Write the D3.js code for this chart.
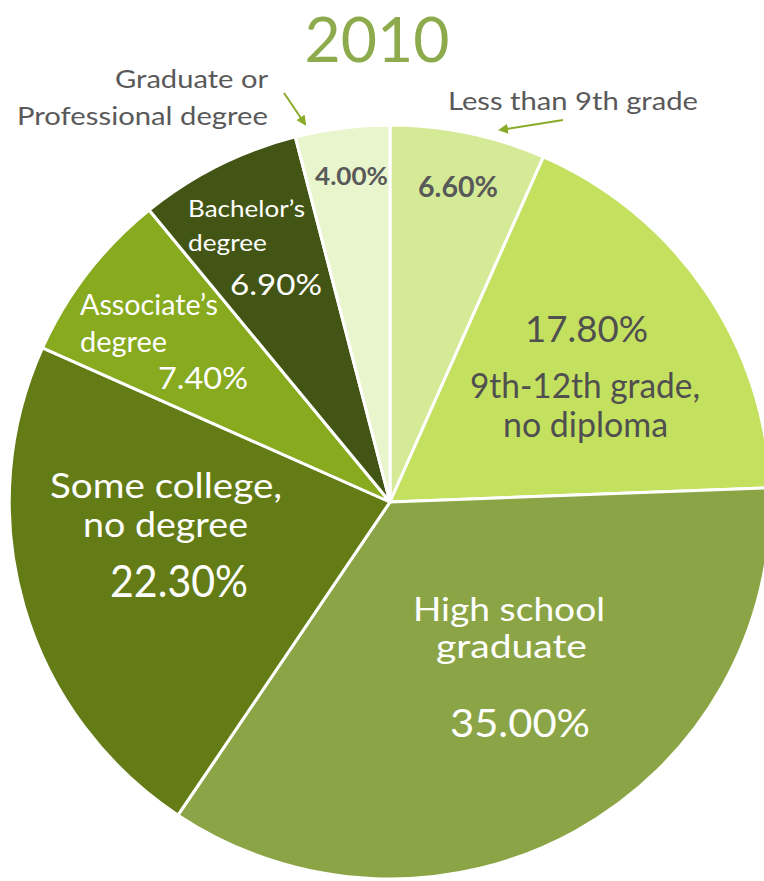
<!DOCTYPE html>
<html>
<head>
<meta charset="utf-8">
<script src="https://cdn.jsdelivr.net/npm/d3@7"></script>
<style>
html,body{margin:0;padding:0;background:#fff;}
svg{display:block;}
text{font-family:Lato,"Open Sans",sans-serif;}
</style>
</head>
<body>
<svg id="chart" width="764" height="881"></svg>
<script>
const title = "2010";
const categories = ["Less than 9th grade","9th-12th grade, no diploma","High school graduate","Some college, no degree","Associate’s degree","Bachelor’s degree","Graduate or Professional degree"];
const values = [6.6, 17.8, 35.0, 22.3, 7.4, 6.9, 4.0];
const valueLabels = ["6.60%","17.80%","35.00%","22.30%","7.40%","6.90%","4.00%"];
const colors = ["#d5ea97","#c4e05f","#8ba546","#647c16","#87aa1f","#435514","#e9f5cd"];

const svg = d3.select("#chart");
const cx = 390, cy = 502, R = 377;

function addText(x, y, str, fs, fill, opts) {
  opts = opts || {};
  const t = svg.append("text").attr("x", x).attr("y", y)
    .attr("text-anchor", opts.a || "middle").attr("font-size", fs)
    .attr("font-weight", opts.w || "normal").attr("fill", fill).text(str);
  if (opts.len) t.attr("textLength", opts.len).attr("lengthAdjust", "spacingAndGlyphs");
  return t;
}

addText(377, 62, title, 62, "#8dab4d", {len:145});

const pie = d3.pie().sort(null).value(d => d)(values);
const arc = d3.arc().innerRadius(0).outerRadius(R);
const g = svg.append("g").attr("transform", `translate(${cx},${cy}) scale(1.01,1)`);
g.selectAll("path").data(pie).join("path")
  .attr("d", arc).attr("fill", (d,i) => colors[i])
  .attr("stroke", "#fff").attr("stroke-width", 3).attr("stroke-linejoin","round");

// label layout per slice: offsets relative to pie centre, font size, target width
const labelLayout = [
  {fill:"#595959", lines:[{t:valueLabels[0], dx:68, dy:-305, fs:28, len:80, w:"bold"}]},
  {fill:"#4f4f4f", lines:[{t:valueLabels[1], dx:196.5, dy:-160, fs:37, len:123},
                          {t:"9th-12th grade,", dx:195, dy:-104, fs:34, len:230},
                          {t:"no diploma", dx:195.5, dy:-65, fs:34, len:165}]},
  {fill:"#fff", lines:[{t:"High school", dx:119, dy:119, fs:33, len:192},
                       {t:"graduate", dx:121.5, dy:156, fs:33, len:151},
                       {t:valueLabels[2], dx:130, dy:235, fs:39, len:140}]},
  {fill:"#fff", lines:[{t:"Some college,", dx:-224, dy:-4, fs:34, len:232},
                       {t:"no degree", dx:-224.5, dy:35, fs:34, len:165},
                       {t:valueLabels[3], dx:-211, dy:95, fs:44, len:138}]},
  {fill:"#fff", lines:[{t:"Associate’s", dx:-310, dy:-187, fs:28, len:138, a:"start"},
                       {t:"degree", dx:-310, dy:-150, fs:28, len:87, a:"start"},
                       {t:valueLabels[4], dx:-232, dy:-113, fs:31, len:90, a:"start"}]},
  {fill:"#fff", lines:[{t:"Bachelor’s", dx:-202, dy:-285, fs:23.5, len:117, a:"start"},
                       {t:"degree", dx:-202, dy:-251, fs:23.5, len:79, a:"start"},
                       {t:valueLabels[5], dx:-160, dy:-207, fs:29, len:92, a:"start"}]},
  {fill:"#595959", lines:[{t:valueLabels[6], dx:-38.5, dy:-317, fs:25, len:73, w:"bold"}]}
];
labelLayout.forEach(L => {
  L.lines.forEach(ln => addText(cx + ln.dx, cy + ln.dy, ln.t, ln.fs, L.fill, ln));
});

// outside callouts
svg.append("defs").append("marker").attr("id","ah").attr("viewBox","0 0 10 10")
  .attr("refX",8).attr("refY",5).attr("markerWidth",5).attr("markerHeight",5).attr("orient","auto")
  .append("path").attr("d","M0,0 L10,5 L0,10 z").attr("fill","#8aaa2a");

addText(698, 110, categories[0], 25, "#595959", {a:"end", len:250});
svg.append("line").attr("x1",563).attr("y1",120).attr("x2",500).attr("y2",130)
  .attr("stroke","#8aaa2a").attr("stroke-width",2).attr("marker-end","url(#ah)");

addText(268, 88, "Graduate or", 25, "#595959", {a:"end", len:153});
addText(268, 125, "Professional degree", 25, "#595959", {a:"end", len:251});
svg.append("line").attr("x1",284).attr("y1",93).attr("x2",305).attr("y2",124)
  .attr("stroke","#8aaa2a").attr("stroke-width",2).attr("marker-end","url(#ah)");
</script>
</body>
</html>
